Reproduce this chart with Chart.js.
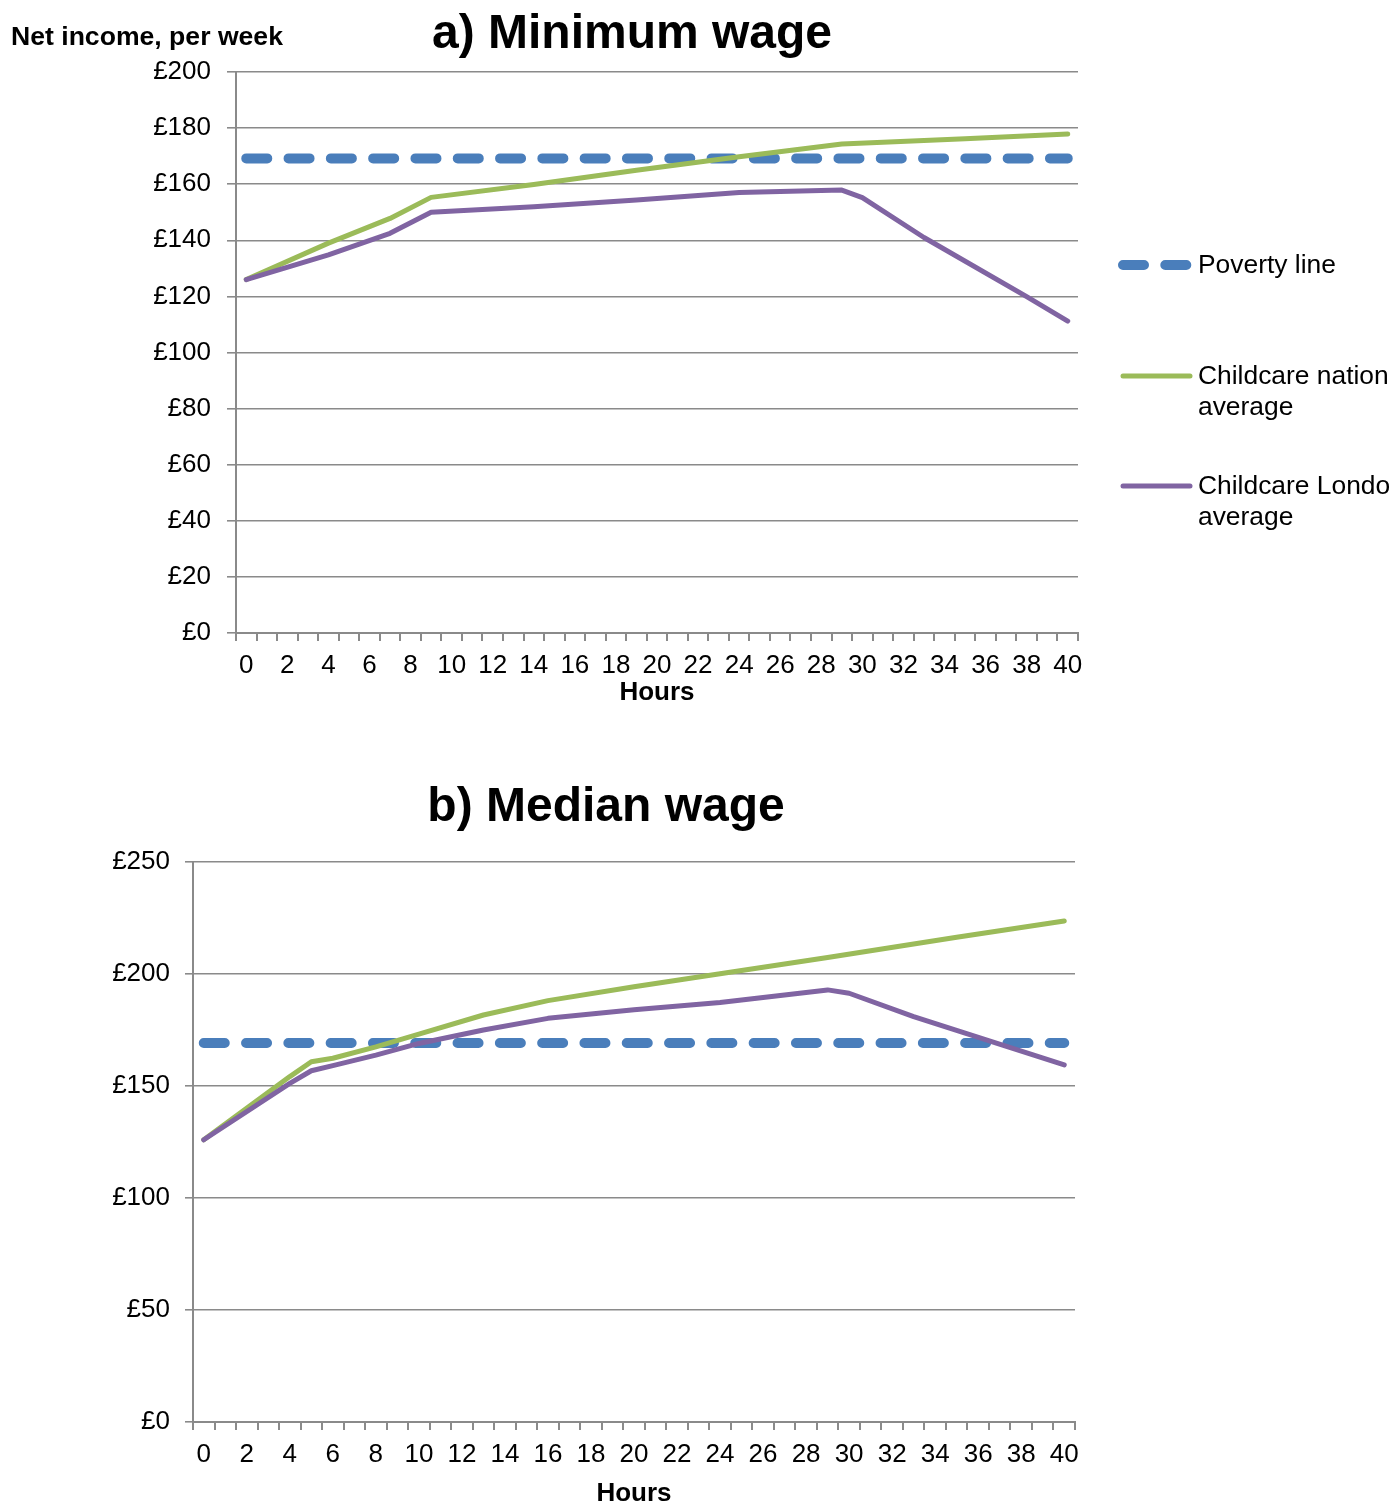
<!DOCTYPE html>
<html>
<head>
<meta charset="utf-8">
<title>Net income per week by hours worked</title>
<script src="https://cdn.jsdelivr.net/npm/chart.js@4.4.1/dist/chart.umd.min.js"></script>
<style>
  html, body { margin: 0; padding: 0; background: #fff; overflow: hidden; }
  #wrap { position: relative; width: 1396px; height: 1504px; }
  canvas { position: absolute; left: 0; }
  #chartA { top: 0; }
  #chartB { top: 740px; }
</style>
</head>
<body>
<div id="wrap">
  <canvas id="chartA" width="1396" height="720"></canvas>
  <canvas id="chartB" width="1396" height="764"></canvas>
</div>
<script>
// Hours worked per week (category axis)
const hourLabels = ['0','1','2','3','4','5','6','7','8','9','10','11','12','13','14','15','16','17','18','19','20',
                    '21','22','23','24','25','26','27','28','29','30','31','32','33','34','35','36','37','38','39','40'];

const seriesNames = ['Poverty line', 'Childcare national average', 'Childcare London average'];

// Poverty line, £ per week
const povertyHours = [0, 40];
const povertyLevel = [169.2, 169.2];

// a) Minimum wage — net income per week (£)
const minNationalHours = [0, 4, 7, 9, 14, 19, 24, 29, 35, 40];
const minNational      = [126.0, 139.0, 147.8, 155.3, 159.9, 165.0, 169.8, 174.3, 176.2, 177.9];
const minLondonHours   = [0, 4, 7, 9, 14, 19, 24, 29, 30, 33, 38, 40];
const minLondon        = [126.0, 134.8, 142.5, 150.0, 152.0, 154.4, 157.0, 157.9, 155.2, 141.0, 119.9, 111.2];

// b) Median wage — net income per week (£)
const medNationalHours = [0, 4, 5, 6, 8, 10, 13, 16, 20, 24, 29, 35, 40];
const medNational      = [126.0, 154.2, 160.8, 162.4, 167.5, 173.2, 181.7, 188.1, 194.3, 200.1, 207.4, 216.4, 223.7];
const medLondonHours   = [0, 4, 5, 6, 8, 10, 13, 16, 20, 24, 29, 30, 33, 40];
const medLondon        = [126.0, 151.2, 156.8, 159.1, 163.8, 169.0, 175.0, 180.2, 184.0, 187.3, 192.9, 191.4, 181.0, 159.4];

const COLORS = { poverty: '#4a7ebb', national: '#9bbb59', london: '#8064a2', grid: '#8a8a8a' };
const FONT = "'Liberation Sans', Arial, Helvetica, sans-serif";
Chart.defaults.font.family = FONT;
Chart.defaults.color = '#000';

function points(hours, values) {
  return hours.map((h, i) => ({ x: String(h), y: values[i] }));
}

function buildDatasets(natH, nat, lonH, lon) {
  return [
    { label: seriesNames[0], data: points(povertyHours, povertyLevel), borderColor: COLORS.poverty,
      borderWidth: 10, borderDash: [21, 21.3], borderCapStyle: 'round', order: 3 },
    { label: seriesNames[1], data: points(natH, nat), borderColor: COLORS.national,
      borderWidth: 5, borderCapStyle: 'round', borderJoinStyle: 'round', order: 2 },
    { label: seriesNames[2], data: points(lonH, lon), borderColor: COLORS.london,
      borderWidth: 5, borderCapStyle: 'round', borderJoinStyle: 'round', order: 1 }
  ];
}

// Free text drawn on the canvas (titles, axis caption)
const overlayText = {
  id: 'overlayText',
  afterDraw(chart, args, opts) {
    const ctx = chart.ctx;
    ctx.save();
    (opts.items || []).forEach(t => {
      ctx.font = t.font;
      ctx.fillStyle = '#000';
      ctx.textAlign = t.align || 'left';
      ctx.textBaseline = 'alphabetic';
      ctx.fillText(t.text, t.x, t.y);
    });
    ctx.restore();
  }
};

// Legend at the right of the first panel, labels wrapped onto two lines
const sideLegend = {
  id: 'sideLegend',
  afterDraw(chart, args, opts) {
    if (!opts.show) return;
    const ctx = chart.ctx;
    ctx.save();
    ctx.beginPath();
    ctx.rect(0, 0, opts.clipRight, chart.height);
    ctx.clip();
    chart.data.datasets.forEach((ds, i) => {
      const y = opts.rows[i];
      ctx.beginPath();
      ctx.strokeStyle = ds.borderColor;
      ctx.lineWidth = ds.borderWidth;
      ctx.lineCap = 'round';
      ctx.setLineDash(ds.borderDash || []);
      ctx.moveTo(opts.lineStart, y);
      ctx.lineTo(opts.lineEnd, y);
      ctx.stroke();
      ctx.setLineDash([]);
      ctx.font = '26.4px ' + FONT;
      ctx.fillStyle = '#000';
      ctx.textAlign = 'left';
      ctx.textBaseline = 'middle';
      const words = ds.label.split(' ');
      const lines = words.length > 2 ? [words.slice(0, 2).join(' '), words.slice(2).join(' ')] : [ds.label];
      lines.forEach((ln, k) => ctx.fillText(ln, opts.textX, y + 1 + k * 31));
    });
    ctx.restore();
  }
};

function makeChart(id, cfg) {
  return new Chart(document.getElementById(id), {
    type: 'line',
    data: { labels: hourLabels, datasets: cfg.datasets },
    plugins: [overlayText, sideLegend],
    options: {
      responsive: false,
      animation: false,
      events: [],
      layout: { padding: { top: cfg.top, right: cfg.right, bottom: 0, left: 0 } },
      elements: { point: { radius: 0, hoverRadius: 0 }, line: { tension: 0 } },
      plugins: {
        legend: { display: false },
        tooltip: { enabled: false },
        title: { display: false },
        overlayText: { items: cfg.texts },
        sideLegend: cfg.legend
      },
      scales: {
        x: {
          type: 'category',
          offset: true,
          afterFit(scale) { scale.height = cfg.xHeight; },
          grid: { offset: true, drawOnChartArea: false, drawTicks: true, tickLength: 8, color: COLORS.grid, lineWidth: 2 },
          border: { display: true, color: COLORS.grid, width: 2 },
          ticks: {
            autoSkip: false, maxRotation: 0, padding: 9,
            font: { size: 26 },
            callback(val) { const h = hourLabels[val]; return Number(h) % 2 === 0 ? h : ''; }
          },
          title: { display: true, text: 'Hours', font: { size: 26, weight: 'bold', lineHeight: 0.9 },
                   padding: { top: 0, bottom: cfg.titlePad } }
        },
        y: {
          min: 0, max: cfg.yMax,
          afterFit(scale) { scale.width = cfg.yWidth; },
          grid: { color: COLORS.grid, lineWidth: 1.6, tickLength: cfg.yTick, drawTicks: true },
          border: { display: true, color: COLORS.grid, width: 2 },
          ticks: { stepSize: cfg.yStep, padding: cfg.yPad, font: { size: 26 }, callback: v => '£' + v }
        }
      }
    }
  });
}

makeChart('chartA', {
  datasets: buildDatasets(minNationalHours, minNational, minLondonHours, minLondon),
  top: 72, right: 318, xHeight: 87, yWidth: 236, yMax: 200, yStep: 20, yTick: 9, yPad: 16, titlePad: 15,
  texts: [
    { text: 'a) Minimum wage', font: 'bold 48px ' + FONT, x: 632, y: 48, align: 'center' },
    { text: 'Net income, per week', font: 'bold 26.6px ' + FONT, x: 11, y: 45, align: 'left' }
  ],
  legend: { show: true, rows: [265, 376, 486], lineStart: 1123, lineEnd: 1190, textX: 1198, clipRight: 1389 }
});

makeChart('chartB', {
  datasets: buildDatasets(medNationalHours, medNational, medLondonHours, medLondon),
  top: 122, right: 321, xHeight: 82, yWidth: 193, yMax: 250, yStep: 50, yTick: 8, yPad: 15, titlePad: -2,
  texts: [
    { text: 'b) Median wage', font: 'bold 48px ' + FONT, x: 606, y: 81, align: 'center' }
  ],
  legend: { show: false }
});
</script>
</body>
</html>
